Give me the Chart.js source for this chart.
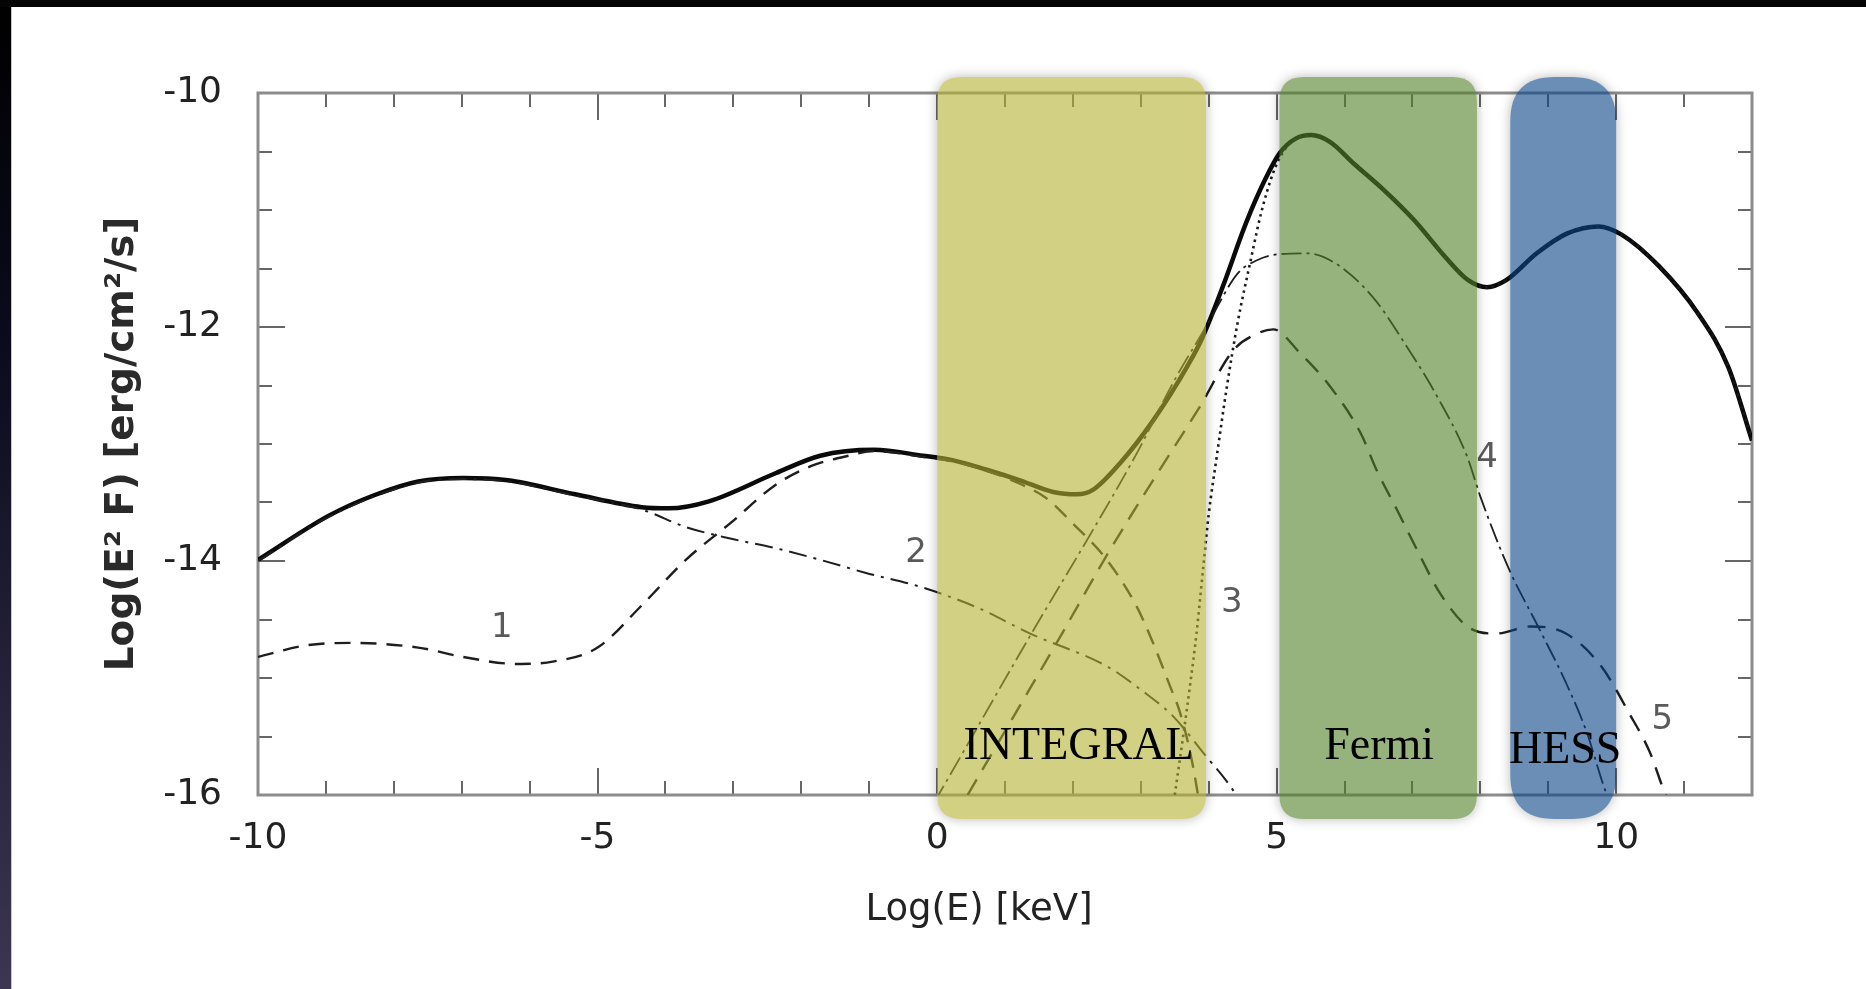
<!DOCTYPE html>
<html><head><meta charset="utf-8">
<script src="https://cdn.jsdelivr.net/npm/chart.js@4.4.0/dist/chart.umd.min.js"></script>
<style>html,body{margin:0;padding:0;background:#fff;overflow:hidden}canvas{display:block}</style>
</head><body>
<canvas id="c" width="1866" height="989"></canvas>
<script>
// ---- data ----
const xTickLabels = [-10, -5, 0, 5, 10];
const yTickLabels = [-16, -14, -12, -10];
const xTitle = 'Log(E) [keV]';
const yTitle = 'Log(E² F) [erg/cm²/s]';

const totalX = [-10, -8.95, -8.3, -7.64, -6.98, -6.32, -5.33, -4.35, -3.95, -3.36, -2.38, -1.72, -0.93, -0.21, 0.24, 0.73, 1.22, 1.71, 2.06, 2.3, 2.7, 3.18, 3.68, 3.9, 4.21, 4.55, 4.83, 5.05, 5.28, 5.51, 5.79, 6.13, 6.58, 7.03, 7.48, 7.82, 8.1, 8.38, 8.83, 9.28, 9.74, 10.08, 10.63, 11.2, 11.65, 12];
const totalY = [-13.99, -13.61, -13.44, -13.32, -13.29, -13.31, -13.43, -13.54, -13.55, -13.49, -13.25, -13.10, -13.05, -13.10, -13.14, -13.22, -13.31, -13.41, -13.43, -13.39, -13.16, -12.8, -12.34, -12.1, -11.65, -11.11, -10.74, -10.51, -10.39, -10.36, -10.42, -10.6, -10.83, -11.09, -11.4, -11.6, -11.66, -11.6, -11.37, -11.2, -11.14, -11.21, -11.48, -11.88, -12.34, -12.97];

const c1X = [-10, -9.28, -8.62, -7.64, -6.98, -6.19, -5.66, -5.0, -4.35, -3.7, -3.03, -2.38, -1.86, -1.3, -0.93, -0.21, 0.24, 0.73, 1.22, 1.6, 2.0, 2.5, 2.94, 3.18, 3.43, 3.58, 3.75, 3.9];
const c1Y = [-14.82, -14.72, -14.7, -14.74, -14.82, -14.88, -14.86, -14.74, -14.38, -13.99, -13.67, -13.35, -13.19, -13.1, -13.06, -13.11, -13.15, -13.23, -13.34, -13.46, -13.68, -13.99, -14.39, -14.7, -15.07, -15.3, -15.7, -16.2];

const c2X = [-10, -8.95, -7.64, -6.98, -6.32, -5.33, -4.35, -3.7, -3.03, -2.38, -1.72, -1.06, -0.25, 0.6, 1.37, 2.5, 3.0, 3.48, 3.92, 4.36, 4.5];
const c2Y = [-14.0, -13.62, -13.33, -13.3, -13.32, -13.44, -13.56, -13.71, -13.81, -13.89, -13.99, -14.1, -14.22, -14.4, -14.62, -14.9, -15.1, -15.33, -15.64, -15.96, -16.1];

const c3X = [3.5, 3.63, 3.73, 3.82, 3.92, 4.0, 4.12, 4.27, 4.43, 4.61, 4.77, 4.95, 5.1, 5.28, 5.51, 5.79, 6.13, 6.58, 7.03, 7.48, 7.82, 8.1, 8.38, 8.83, 9.28, 9.74, 10.08, 10.63, 11.2, 11.65, 12];
const c3Y = [-16.0, -15.47, -15.04, -14.62, -14.05, -13.6, -13.1, -12.5, -11.95, -11.45, -11.03, -10.68, -10.5, -10.39, -10.36, -10.42, -10.6, -10.83, -11.09, -11.4, -11.6, -11.66, -11.6, -11.37, -11.2, -11.14, -11.21, -11.48, -11.88, -12.34, -12.97];

const c4X = [-0.05, 0.09, 1.42, 2.3, 2.94, 3.5, 3.98, 4.43, 4.71, 5.0, 5.45, 5.85, 6.41, 6.92, 7.37, 7.8, 8.0, 8.43, 8.85, 9.26, 9.57, 9.82, 9.9];
const c4Y = [-16.07, -15.93, -14.59, -13.73, -13.08, -12.45, -11.98, -11.54, -11.43, -11.38, -11.37, -11.45, -11.74, -12.17, -12.6, -13.1, -13.45, -14.08, -14.56, -15.04, -15.47, -15.93, -16.05];

const c5X = [0.45, 0.49, 1.81, 2.5, 3.18, 3.87, 4.36, 4.7, 4.95, 5.34, 5.79, 6.24, 6.47, 6.77, 7.09, 7.4, 7.81, 8.23, 8.74, 9.26, 9.78, 10.19, 10.5, 10.7, 10.8];
const c5Y = [-16.0, -15.96, -14.65, -13.95, -13.31, -12.68, -12.2, -12.06, -12.02, -12.22, -12.51, -12.91, -13.22, -13.56, -13.93, -14.27, -14.56, -14.62, -14.56, -14.62, -14.9, -15.3, -15.64, -15.96, -16.1];

const bandNames = ['INTEGRAL', 'Fermi', 'HESS'];
const bandFrom = [0.0, 5.04, 8.44];
const bandTo = [3.96, 7.95, 10.0];

const curveLabels = ['1', '2', '3', '4', '5'];
const curveLabelX = [-6.41, -0.31, 4.34, 8.1, 10.68];
const curveLabelY = [-14.57, -13.93, -14.36, -13.12, -15.36];

// ---- helpers ----
const pts = (xs, ys) => xs.map((x, i) => ({x: x, y: ys[i]}));

const bandFill = ['rgba(180,177,47,0.6)', 'rgba(80,127,38,0.6)', 'rgba(8,67,133,0.6)'];
const bandRadius = [24, 24, 44];

function rrPath(ctx, x, y, w, h, r) {
  r = Math.min(r, w / 2, h / 2);
  ctx.moveTo(x + r, y);
  ctx.lineTo(x + w - r, y);
  ctx.quadraticCurveTo(x + w, y, x + w, y + r);
  ctx.lineTo(x + w, y + h - r);
  ctx.quadraticCurveTo(x + w, y + h, x + w - r, y + h);
  ctx.lineTo(x + r, y + h);
  ctx.quadraticCurveTo(x, y + h, x, y + h - r);
  ctx.lineTo(x, y + r);
  ctx.quadraticCurveTo(x, y, x + r, y);
  ctx.closePath();
}

const deco = {
  id: 'deco',
  beforeDraw(chart) {
    const ctx = chart.ctx, W = chart.width, H = chart.height;
    ctx.save();
    ctx.fillStyle = '#fff';
    ctx.fillRect(0, 0, W, H);
    const g = ctx.createLinearGradient(0, 0, 0, H);
    g.addColorStop(0, '#000000');
    g.addColorStop(0.35, '#0b0b1c');
    g.addColorStop(1, '#3c3652');
    ctx.fillStyle = g;
    ctx.fillRect(0, 0, 11, H);
    ctx.fillStyle = '#050505';
    ctx.fillRect(0, 0, W, 7);
    ctx.fillStyle = '#c8c8c8';
    ctx.fillRect(11, 7, 1, H - 7);
    ctx.restore();
  },
  beforeDatasetsDraw(chart) {
    const ctx = chart.ctx, a = chart.chartArea;
    const xs = chart.scales.x, ys = chart.scales.y;
    ctx.save();
    ctx.strokeStyle = '#666';
    ctx.lineWidth = 2;
    for (let v = -9; v <= 11; v++) {
      const px = Math.round(xs.getPixelForValue(v));
      const len = (v % 5 === 0) ? 27 : 14;
      ctx.beginPath();
      ctx.moveTo(px, a.bottom); ctx.lineTo(px, a.bottom - len);
      ctx.moveTo(px, a.top); ctx.lineTo(px, a.top + len);
      ctx.stroke();
    }
    for (let k = 1; k < 12; k++) {
      const v = -16 + k * 0.5;
      const py = Math.round(ys.getPixelForValue(v));
      const len = (k % 4 === 0) ? 27 : 14;
      ctx.beginPath();
      ctx.moveTo(a.left, py); ctx.lineTo(a.left + len, py);
      ctx.moveTo(a.right, py); ctx.lineTo(a.right - len, py);
      ctx.stroke();
    }
    ctx.strokeStyle = '#8c8c8c';
    ctx.lineWidth = 3;
    ctx.strokeRect(a.left, a.top, a.right - a.left, a.bottom - a.top);
    // x axis title
    ctx.fillStyle = '#222';
    ctx.font = '37px "DejaVu Sans"';
    ctx.textAlign = 'center';
    ctx.textBaseline = 'middle';
    ctx.fillText(xTitle, (a.left + a.right) / 2 - 26, a.bottom + 115);
    ctx.restore();
  },
  afterDatasetsDraw(chart) {
    const ctx = chart.ctx, a = chart.chartArea;
    const xs = chart.scales.x, ys = chart.scales.y;
    // curve number labels
    ctx.save();
    ctx.fillStyle = '#5a5a5a';
    ctx.font = '34px "DejaVu Sans"';
    ctx.textAlign = 'center';
    ctx.textBaseline = 'middle';
    curveLabels.forEach((t, i) => {
      ctx.fillText(t, xs.getPixelForValue(curveLabelX[i]), ys.getPixelForValue(curveLabelY[i]));
    });
    ctx.restore();
    // instrument bands
    const top = a.top - 16, bot = a.bottom + 24;
    bandNames.forEach((name, i) => {
      const x0 = xs.getPixelForValue(bandFrom[i]);
      const x1 = xs.getPixelForValue(bandTo[i]);
      const w = x1 - x0, h = bot - top;
      ctx.save();
      ctx.beginPath();
      ctx.rect(0, 0, chart.width, chart.height);
      rrPath(ctx, x0, top, w, h, bandRadius[i]);
      ctx.clip('evenodd');
      ctx.shadowColor = 'rgba(0,0,0,0.28)';
      ctx.shadowBlur = 12;
      ctx.shadowOffsetX = 6000;
      ctx.fillStyle = '#000';
      ctx.beginPath();
      rrPath(ctx, x0 - 6000, top, w, h, bandRadius[i]);
      ctx.fill();
      ctx.restore();
      ctx.save();
      ctx.fillStyle = bandFill[i];
      ctx.beginPath();
      rrPath(ctx, x0, top, w, h, bandRadius[i]);
      ctx.fill();
      ctx.restore();
    });
    ctx.save();
    ctx.fillStyle = '#000';
    ctx.font = '46px "Liberation Serif"';
    ctx.textAlign = 'center';
    ctx.textBaseline = 'alphabetic';
    const textShift = [7, 1, 2];
    bandNames.forEach((name, i) => {
      const cx = (xs.getPixelForValue(bandFrom[i]) + xs.getPixelForValue(bandTo[i])) / 2 + textShift[i];
      ctx.fillText(name, cx, a.bottom - 36 + (i === 2 ? 4 : 0));
    });
    ctx.restore();
  }
};

const lineDs = (label, xs, ys, width, dash, color) => ({
  label: label,
  data: pts(xs, ys),
  borderColor: color,
  borderWidth: width,
  borderDash: dash,
  pointRadius: 0,
  fill: false,
  cubicInterpolationMode: 'monotone',
  borderCapStyle: 'butt'
});

new Chart(document.getElementById('c'), {
  type: 'line',
  data: {
    datasets: [
      lineDs('3', c3X, c3Y, 2.6, [2.5, 4], '#1a1a1a'),
      lineDs('1', c1X, c1Y, 2.4, [16, 10], '#1e1e1e'),
      lineDs('2', c2X, c2Y, 2.0, [18, 7, 3, 7], '#1e1e1e'),
      lineDs('4', c4X, c4Y, 1.8, [20, 5, 3, 5], '#1e1e1e'),
      lineDs('5', c5X, c5Y, 2.4, [18, 11], '#1e1e1e'),
      lineDs('total', totalX, totalY, 4.5, [], '#0a0a0a')
    ]
  },
  options: {
    responsive: false,
    animation: false,
    devicePixelRatio: 1,
    layout: {padding: {left: 0, right: 114, top: 93, bottom: 0}},
    plugins: {legend: {display: false}, tooltip: {enabled: false}},
    scales: {
      x: {
        type: 'linear', min: -10, max: 12,
        afterFit(s) { s.height = 194; },
        afterBuildTicks(s) { s.ticks = xTickLabels.map(v => ({value: v})); },
        grid: {display: false, drawTicks: false},
        border: {display: false},
        ticks: {color: '#222', font: {family: 'DejaVu Sans', size: 36}, padding: 22, maxRotation: 0, autoSkip: false},
        title: {display: false}
      },
      y: {
        type: 'linear', min: -16, max: -10,
        afterFit(s) { s.width = 258; },
        afterBuildTicks(s) { s.ticks = yTickLabels.map(v => ({value: v})); },
        grid: {display: false, drawTicks: false},
        border: {display: false},
        ticks: {color: '#222', font: {family: 'DejaVu Sans', size: 36}, padding: 36, autoSkip: false},
        title: {display: true, text: yTitle, color: '#2a2a2a', font: {family: 'DejaVu Sans', size: 39, weight: 'bold'}, padding: {top: 99, bottom: 0}}
      }
    }
  },
  plugins: [deco]
});
</script>
</body></html>
